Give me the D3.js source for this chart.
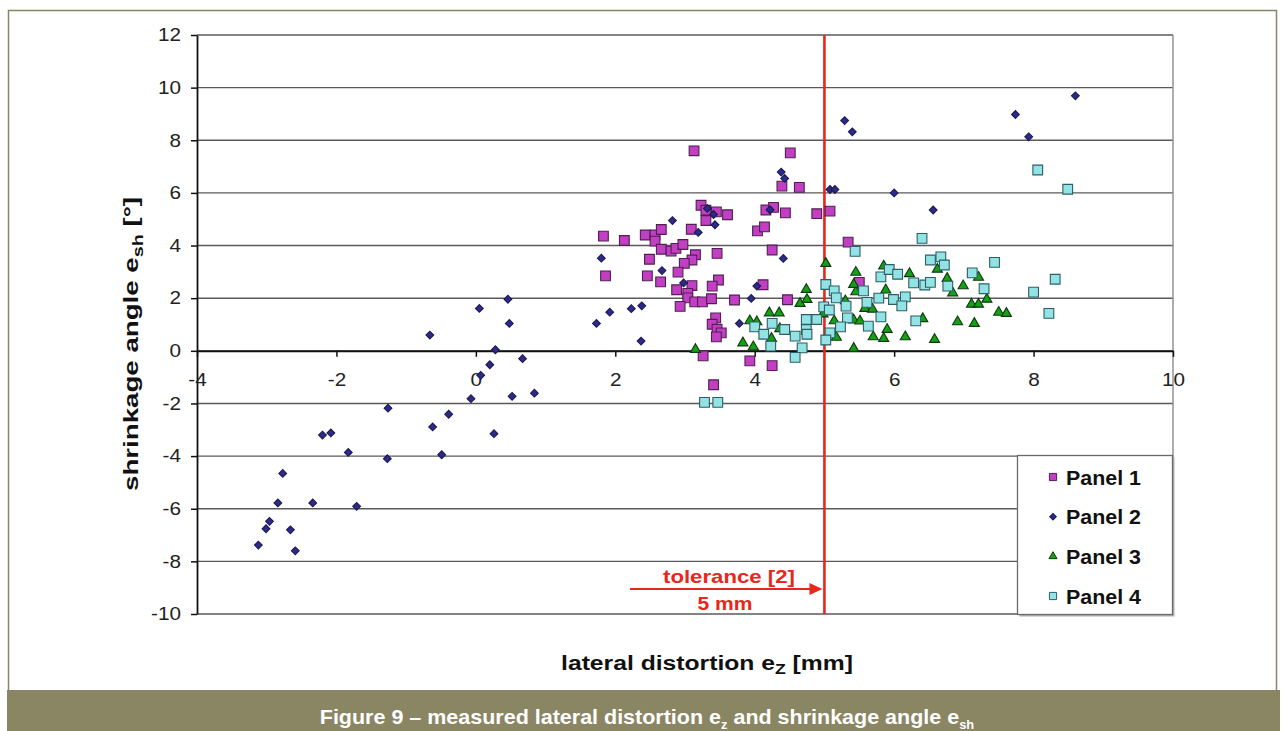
<!DOCTYPE html>
<html>
<head>
<meta charset="utf-8">
<script src="https://cdn.jsdelivr.net/npm/d3@7"></script>
<style>
  html, body { margin: 0; padding: 0; background: #fff; }
  svg { display: block; }
  text { font-family: "Liberation Sans", Arial, Helvetica, sans-serif; }
</style>
</head>
<body>
<svg id="chart" width="1285" height="731"></svg>
<script>
// ---- data ---------------------------------------------------------------
const panelNames = ["Panel 1", "Panel 2", "Panel 3", "Panel 4"];
const xTicks = [-4, -2, 0, 2, 4, 6, 8, 10];
const yTicks = [-10, -8, -6, -4, -2, 0, 2, 4, 6, 8, 10, 12];
const tolerance = 5; // mm

// [lateral distortion e_z (mm), shrinkage angle e_sh (deg)]
const panel1 = [
  [3.13, 7.60], [3.23, 5.53], [3.30, 5.34], [3.45, 5.28], [3.61, 5.17], [3.30, 4.95],
  [4.04, 4.56], [4.14, 4.71], [1.83, 4.36], [2.13, 4.19], [2.43, 4.40], [2.57, 4.40],
  [2.66, 4.61], [2.57, 4.17], [3.09, 4.62], [2.66, 3.86], [2.80, 3.79], [2.87, 3.89],
  [2.97, 4.04], [3.46, 3.70], [2.49, 3.48], [3.15, 3.65], [3.10, 3.45], [2.99, 3.32],
  [2.90, 2.99], [1.86, 2.85], [2.46, 2.85], [2.65, 2.62], [3.48, 2.69], [3.10, 2.48],
  [3.39, 2.46], [2.88, 2.32], [3.04, 2.18], [3.04, 2.01], [3.14, 1.86], [3.25, 1.86],
  [3.38, 1.98], [3.71, 1.93], [2.93, 1.69], [3.44, 1.25], [3.39, 1.01], [3.46, 0.82],
  [3.52, 0.68], [3.45, 0.53], [3.26, -0.19], [3.93, -0.38], [3.41, -1.29],
  [4.51, 7.52], [4.39, 6.26], [4.64, 6.21], [4.89, 5.21], [5.08, 5.31], [4.16, 5.35],
  [4.27, 5.45], [4.44, 5.24], [4.25, 3.83], [5.34, 4.13], [4.12, 2.51], [4.47, 1.94],
  [5.50, 2.60], [4.25, -0.56]
];

const panel2 = [
  [0.46, 1.96], [0.05, 1.61], [0.48, 1.04], [-0.66, 0.60], [0.28, 0.04], [0.67, -0.30],
  [0.20, -0.53], [0.07, -0.93], [-0.07, -1.82], [0.52, -1.73], [0.84, -1.61], [-1.26, -2.18],
  [-0.39, -2.41], [-0.62, -2.89], [0.26, -3.15], [-2.20, -3.20], [-2.08, -3.12], [-1.83, -3.86],
  [-1.27, -4.10], [-0.49, -3.95], [-2.77, -4.66], [-2.84, -5.78], [-2.34, -5.78], [-1.71, -5.91],
  [-2.96, -6.48], [-3.01, -6.76], [-2.66, -6.80], [-3.12, -7.38], [-2.59, -7.60],
  [2.82, 4.95], [3.32, 5.41], [3.41, 5.18], [3.43, 4.79], [3.19, 4.50], [1.80, 3.52],
  [2.67, 3.05], [2.98, 2.58], [4.03, 2.46], [3.95, 1.99], [1.92, 1.47], [2.23, 1.60],
  [2.38, 1.71], [1.73, 1.04], [2.37, 0.37], [3.78, 1.04],
  [5.29, 8.75], [5.40, 8.32], [4.38, 6.79], [4.43, 6.55], [5.08, 6.13], [5.15, 6.13],
  [6.00, 6.00], [4.22, 5.36], [4.41, 3.51],
  [8.60, 9.69], [7.74, 8.98], [7.93, 8.13], [6.56, 5.35]
];

const panel3 = [
  [3.15, 0.05], [3.83, 0.30], [3.98, 0.15], [3.93, 1.14], [4.03, 1.10],
  [4.21, 1.44], [4.35, 1.44], [4.36, 0.84], [4.24, 0.47],
  [4.74, 2.33], [4.65, 1.80], [4.75, 1.95], [4.98, 1.40],
  [5.02, 3.32], [5.14, 1.14], [5.17, 0.51], [5.42, 0.09], [5.30, 1.90], [5.45, 2.24],
  [5.45, 2.98], [5.85, 3.22], [5.42, 2.52], [5.88, 2.31], [6.22, 2.93],
  [5.58, 1.61], [5.69, 1.58], [5.42, 1.17], [5.51, 1.13],
  [5.70, 0.53], [5.85, 0.47], [5.90, 0.81], [6.16, 0.53], [6.41, 1.22], [6.58, 0.43],
  [6.62, 3.10], [6.76, 2.75], [6.99, 2.47], [6.84, 2.20], [7.21, 2.79],
  [7.11, 1.77], [7.21, 1.77], [7.33, 1.96], [7.50, 1.46], [7.61, 1.42], [6.91, 1.10], [7.15, 1.04]
];

const panel4 = [
  [3.28, -1.96], [3.47, -1.96],
  [4.00, 0.91], [4.25, 1.04], [4.13, 0.63], [4.23, 0.18], [4.43, 0.81], [4.58, 0.56],
  [4.68, 0.11], [4.58, -0.25], [4.74, 1.19], [4.74, 0.81], [4.75, 0.63], [4.89, 1.19],
  [4.99, 1.67], [5.07, 1.55], [5.02, 2.52], [5.14, 2.28], [5.17, 2.01], [5.31, 1.70],
  [5.33, 1.25], [5.23, 0.91], [5.08, 0.68], [5.02, 0.41],
  [5.44, 3.78], [5.56, 2.28], [5.61, 1.84], [5.78, 2.00], [5.99, 1.95], [6.16, 2.05],
  [6.11, 1.71], [5.81, 1.29], [6.31, 1.14], [5.63, 0.94],
  [5.81, 2.81], [5.93, 3.09], [6.05, 2.91], [6.28, 2.58], [6.44, 2.50], [6.52, 2.60], [6.77, 2.46],
  [6.52, 3.45], [6.67, 3.57], [6.72, 3.26], [6.40, 4.27],
  [7.12, 2.96], [7.29, 2.36], [7.44, 3.36], [8.00, 2.23], [8.31, 2.72], [8.22, 1.42],
  [8.06, 6.87], [8.49, 6.14]
];

// ---- layout -------------------------------------------------------------
const svg = d3.select("#chart");
const W = 1285, H = 731;
const plot = { left: 197, right: 1173, top: 35, bottom: 614 };
const frameColor = "#8a8563";
const red = "#e8261a";
const baseFont = '"Liberation Sans", Arial, Helvetica, sans-serif';

const x = d3.scaleLinear().domain([-4, 10]).range([plot.left, plot.right]);
const y = d3.scaleLinear().domain([-10, 12]).range([plot.bottom, plot.top]);

// stretch or squeeze a text horizontally so it spans `target` pixels,
// keeping its anchor point (ax) fixed
function fitWidth(sel, target, ax) {
  const w = sel.node().getComputedTextLength();
  const s = target / w;
  sel.attr("transform", `translate(${ax * (1 - s)},0) scale(${s},1)`);
}

// outer frame and caption band
svg.append("rect").attr("x", 0).attr("y", 0).attr("width", W).attr("height", H).attr("fill", "#fff");
svg.append("rect")
  .attr("x", 8.5).attr("y", 10.5).attr("width", 1268).attr("height", 690)
  .attr("fill", "none").attr("stroke", frameColor).attr("stroke-width", 1.5);
svg.append("rect")
  .attr("x", 7).attr("y", 690).attr("width", 1273).attr("height", 41)
  .attr("fill", frameColor);

// horizontal gridlines
svg.append("g").selectAll("line").data(yTicks).join("line")
  .attr("x1", plot.left).attr("x2", plot.right)
  .attr("y1", d => y(d)).attr("y2", d => y(d))
  .attr("stroke", "#5a5a5a").attr("stroke-width", 1.4);

// right border of the plot area
svg.append("line")
  .attr("x1", plot.right).attr("x2", plot.right)
  .attr("y1", plot.top).attr("y2", plot.bottom)
  .attr("stroke", "#8c8c8c").attr("stroke-width", 1.4);

const tickScale = 1.15;

// y axis
const yAxis = svg.append("g")
  .attr("transform", `translate(${plot.left},0)`)
  .call(d3.axisLeft(y).tickValues(yTicks).tickFormat(d => String(d))
    .tickSize(6).tickSizeOuter(0).tickPadding(10));
yAxis.select(".domain").attr("stroke", "#111").attr("stroke-width", 1.8);
yAxis.selectAll(".tick line").attr("stroke", "#111").attr("stroke-width", 1.5);
yAxis.selectAll(".tick text")
  .attr("font-size", 18).attr("fill", "#222").style("font-family", baseFont)
  .attr("transform", `translate(${-16 * (1 - tickScale)},0) scale(${tickScale},1)`);

// x axis, crossing at e_sh = 0
const xAxis = svg.append("g")
  .attr("transform", `translate(0,${y(0)})`)
  .call(d3.axisBottom(x).tickValues(xTicks).tickFormat(d => String(d))
    .tickSize(6).tickSizeOuter(0).tickPadding(16));
xAxis.select(".domain").attr("stroke", "#111").attr("stroke-width", 1.8);
xAxis.selectAll(".tick line").attr("stroke", "#111").attr("stroke-width", 1.5);
xAxis.selectAll(".tick text")
  .attr("font-size", 18).attr("fill", "#222").style("font-family", baseFont)
  .attr("transform", `scale(${tickScale},1)`);

// tolerance line
svg.append("line")
  .attr("x1", x(tolerance)).attr("x2", x(tolerance))
  .attr("y1", plot.top).attr("y2", plot.bottom)
  .attr("stroke", red).attr("stroke-width", 2.6);

// ---- markers --------------------------------------------------------------
const series = [
  { name: panelNames[0], data: panel1, symbol: d3.symbolSquare, size: 95, rotate: 0,
    fill: "#c23ec2", stroke: "#4e2152", legendSize: 52 },
  { name: panelNames[1], data: panel2, symbol: d3.symbolSquare, size: 30, rotate: 45,
    fill: "#2e2a8c", stroke: "#1b1950", legendSize: 22 },
  { name: panelNames[2], data: panel3, symbol: d3.symbolTriangle, size: 44, rotate: 0,
    fill: "#16a016", stroke: "#0c3a0c", legendSize: 28 },
  { name: panelNames[3], data: panel4, symbol: d3.symbolSquare, size: 95, rotate: 0,
    fill: "#92e4e4", stroke: "#2d5d66", legendSize: 52 }
];

series.forEach(s => {
  const path = d3.symbol().type(s.symbol).size(s.size)();
  svg.append("g").selectAll("path").data(s.data).join("path")
    .attr("d", path)
    .attr("transform", d => `translate(${x(d[0])},${y(d[1])}) rotate(${s.rotate})`)
    .attr("fill", s.fill).attr("stroke", s.stroke).attr("stroke-width", 1.1);
});

// ---- legend ---------------------------------------------------------------
const lg = { x: 1017, y: 455, w: 155, h: 159 };
svg.append("rect")
  .attr("x", lg.x + 2.5).attr("y", lg.y + 2.5).attr("width", lg.w).attr("height", lg.h)
  .attr("fill", "#b0b0b0");
svg.append("rect")
  .attr("x", lg.x + 0.5).attr("y", lg.y + 0.5).attr("width", lg.w).attr("height", lg.h)
  .attr("fill", "#fff").attr("stroke", "#6a6a6a").attr("stroke-width", 1.3);

const rowY = d3.scalePoint().domain(panelNames).range([lg.y + 22, lg.y + 141]);
const legendRows = svg.append("g").selectAll("g").data(series).join("g")
  .attr("transform", d => `translate(${lg.x + 36},${rowY(d.name)})`);
legendRows.append("path")
  .attr("d", d => d3.symbol().type(d.symbol).size(d.legendSize)())
  .attr("transform", d => `rotate(${d.rotate})`)
  .attr("fill", d => d.fill).attr("stroke", d => d.stroke).attr("stroke-width", 1);
legendRows.append("text")
  .attr("x", 13).attr("dy", "0.36em")
  .attr("font-size", 21).attr("font-weight", "bold").attr("fill", "#111")
  .text(d => d.name)
  .each(function () { fitWidth(d3.select(this), 75, 13); });

// ---- tolerance annotation -----------------------------------------------
const annX = 729;
const tolText = svg.append("text")
  .attr("x", annX).attr("y", 583)
  .attr("text-anchor", "middle").attr("font-size", 19).attr("font-weight", "bold")
  .attr("fill", red).text("tolerance [2]");
fitWidth(tolText, 132, annX);
const tolValue = svg.append("text")
  .attr("x", annX - 4).attr("y", 610)
  .attr("text-anchor", "middle").attr("font-size", 19).attr("font-weight", "bold")
  .attr("fill", red).text(`${tolerance} mm`);
fitWidth(tolValue, 55, annX - 4);
const arrowY = 589;
svg.append("line")
  .attr("x1", 630).attr("x2", x(tolerance) - 12)
  .attr("y1", arrowY).attr("y2", arrowY)
  .attr("stroke", red).attr("stroke-width", 2.2);
svg.append("path")
  .attr("d", `M${x(tolerance) - 2},${arrowY} L${x(tolerance) - 15},${arrowY - 6} L${x(tolerance) - 15},${arrowY + 6} Z`)
  .attr("fill", red);

// ---- axis titles ----------------------------------------------------------
const yTitleG = svg.append("g").attr("transform", "translate(138,344) rotate(-90)");
const yTitle = yTitleG.append("text")
  .attr("x", 0).attr("y", 0)
  .attr("text-anchor", "middle").attr("font-size", 21).attr("font-weight", "bold").attr("fill", "#111");
yTitle.append("tspan").text("shrinkage angle e");
yTitle.append("tspan").attr("font-size", 15).attr("dy", 5).text("sh");
yTitle.append("tspan").attr("dy", -5).text(" [°]");
fitWidth(yTitle, 294, 0);

const xTitle = svg.append("text")
  .attr("x", 707).attr("y", 670)
  .attr("text-anchor", "middle").attr("font-size", 21).attr("font-weight", "bold").attr("fill", "#111");
xTitle.append("tspan").text("lateral distortion e");
xTitle.append("tspan").attr("font-size", 15).attr("dy", 4).text("Z");
xTitle.append("tspan").attr("dy", -4).text(" [mm]");
fitWidth(xTitle, 292, 707);

// ---- caption ---------------------------------------------------------------
const caption = svg.append("text")
  .attr("x", 647).attr("y", 724)
  .attr("text-anchor", "middle").attr("font-size", 20).attr("font-weight", "bold").attr("fill", "#fff")
  .style("font-family", '"Liberation Sans Narrow", "Arial Narrow", "Liberation Sans", Arial, sans-serif');
caption.append("tspan").text("Figure 9 \u2013 measured lateral distortion e");
caption.append("tspan").attr("font-size", 12).attr("dy", 5).text("z");
caption.append("tspan").attr("dy", -5).text(" and shrinkage angle e");
caption.append("tspan").attr("font-size", 12).attr("dy", 5).text("sh");
fitWidth(caption, 655, 647);
</script>
</body>
</html>
